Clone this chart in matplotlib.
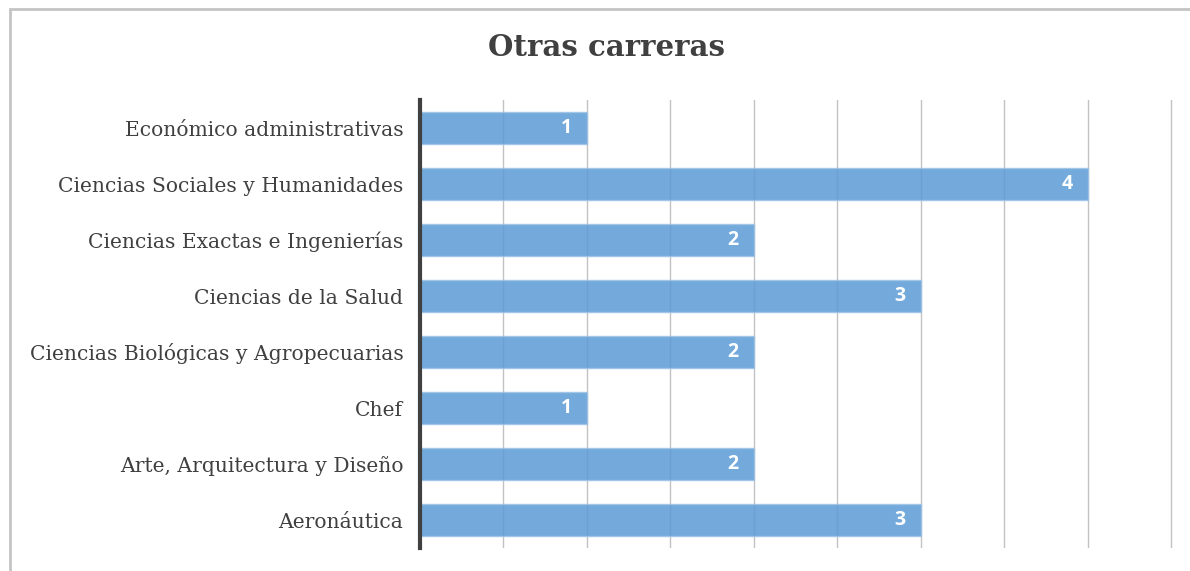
import matplotlib.pyplot as plt
from matplotlib.patches import Rectangle

categorias = ['Económico administrativas', 'Ciencias Sociales y Humanidades',
              'Ciencias Exactas e Ingenierías', 'Ciencias de la Salud',
              'Ciencias Biológicas y Agropecuarias', 'Chef',
              'Arte, Arquitectura y Diseño', 'Aeronáutica']
valores = [1, 4, 2, 3, 2, 1, 2, 3]

fig = plt.figure(figsize=(11.9, 5.71), dpi=100)
# light frame around the chart area
fig.patches.append(Rectangle((10 / 1190, -0.1), 1.2, 1 - 9 / 571 + 0.1,
                             transform=fig.transFigure, fill=False,
                             edgecolor='#c4c4c4', lw=2))

ax = fig.add_axes([420 / 1190, 1 - 548 / 571, 753 / 1190, 448 / 571])
y = list(range(len(categorias)))
bars = ax.barh(y, valores, height=0.58, color='#5b9bd5', alpha=0.85,
               edgecolor='#9dc3e6', lw=1, zorder=2)

ax.set_xlim(0, 4.512)
ax.set_ylim(len(categorias) - 0.5, -0.5)
ax.set_xticks([i * 0.5 for i in range(10)])
ax.xaxis.grid(True, color='#c2c2c2', lw=1, zorder=1)
ax.set_axisbelow(True)
ax.tick_params(axis='x', length=0, labelbottom=False)
ax.tick_params(axis='y', length=0, pad=12)
ax.set_yticks(y)
ax.set_yticklabels(categorias, fontfamily='DejaVu Serif', fontsize=14.6, color='#404040')
for s in ['top', 'right', 'bottom']:
    ax.spines[s].set_visible(False)
ax.spines['left'].set_color('#404040')
ax.spines['left'].set_linewidth(3)

for yi, v in zip(y, valores):
    ax.text(v - 0.09, yi, str(v), ha='right', va='center', color='white',
            fontsize=14, fontweight='bold', fontfamily='Open Sans', zorder=3)

fig.text(606 / 1190, 1 - 48 / 571, 'Otras carreras', ha='center', va='center',
         fontsize=21, fontweight='bold', fontfamily='DejaVu Serif', color='#404040')

fig.savefig('out.png', dpi=100)
